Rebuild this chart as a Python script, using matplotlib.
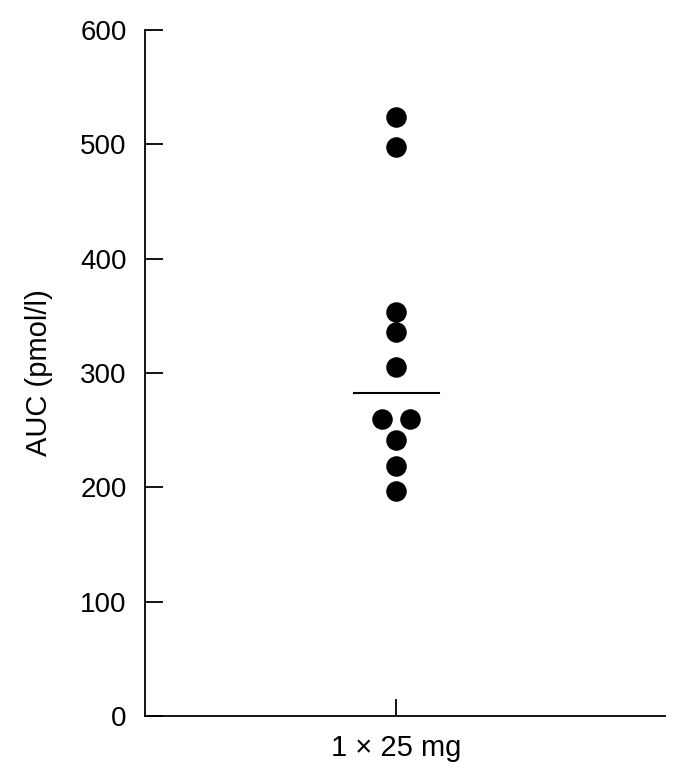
import numpy as np
import matplotlib.pyplot as plt

plt.rcParams['font.family'] = ['Liberation Sans', 'DejaVu Sans']

# AUC values (pmol/l)
group = ['1 \u00d7 25 mg']
auc = [524, 498, 353, 336, 305, 260, 260, 241, 219, 197]
# small horizontal offsets for overlapping points
jitter = [0, 0, 0, 0, 0, -0.056, 0.055, 0, 0, 0]
yticks = [0, 100, 200, 300, 400, 500, 600]

fig = plt.figure(figsize=(6.93, 7.73), dpi=100)
ax = fig.add_axes([0.209, 0.074, 0.751, 0.887])

x = np.zeros(len(auc)) + np.array(jitter)
ax.scatter(x, auc, s=190, color='black', zorder=3)
med = np.median(auc)
ax.plot([-0.17, 0.17], [med, med], color='black', lw=1.5)

ax.set_xlim(-1.0, 1.07)
ax.set_ylim(0, 600)
ax.set_yticks(yticks)
ax.set_xticks([0])
ax.set_xticklabels(group)
ax.spines['top'].set_visible(False)
ax.spines['right'].set_visible(False)
ax.spines['left'].set_linewidth(1.3)
ax.spines['bottom'].set_linewidth(1.3)
ax.tick_params(axis='y', direction='in', length=13, width=1.3, labelsize=20, pad=13)
ax.tick_params(axis='x', direction='in', length=12, width=1.3, labelsize=21, pad=13)
ax.set_ylabel('AUC (pmol/l)', fontsize=21, labelpad=20)

fig.savefig('out.png', dpi=100)
